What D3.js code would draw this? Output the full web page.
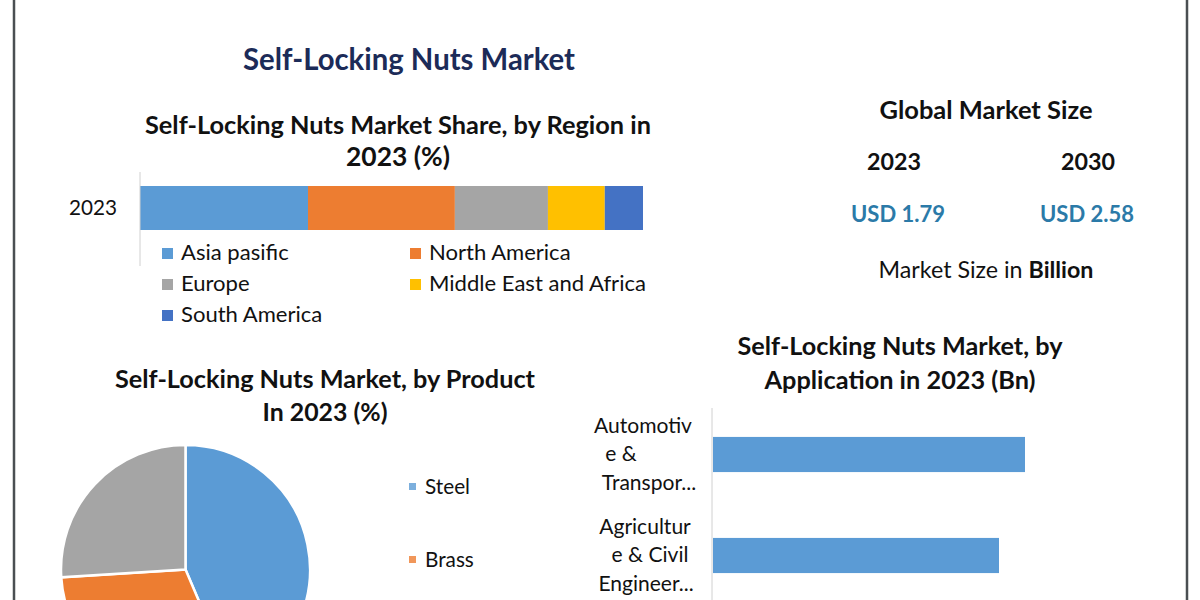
<!DOCTYPE html>
<html><head><meta charset="utf-8">
<script src="https://cdn.jsdelivr.net/npm/d3@7"></script>
<style>
body{margin:0;background:#fff}
svg{display:block}
text{font-family:Lato,'Open Sans',sans-serif;fill:#111}
</style>
</head><body>
<svg id="c" width="1200" height="600"></svg>
<script>
// ---------- data ----------
const regionYear = ["2023"];
const regions = ["Asia pasific","North America","Europe","Middle East and Africa","South America"];
const regionShare = [33.4, 29.2, 18.5, 11.3, 7.6];
const regionColors = ["#5b9bd5","#ed7d31","#a5a5a5","#ffc000","#4472c4"];

const products = ["Steel","Brass","Others"];
const productShare = [43.6, 30.4, 26.0];
const productColors = ["#5b9bd5","#ed7d31","#a5a5a5"];

const applications = ["Automotive & Transportation","Agriculture & Civil Engineering"];
const applicationLabelLines = [["Automotiv","e &","Transpor..."],["Agricultur","e & Civil","Engineer..."]];
const applicationValues = [0.60, 0.55];

const marketYears = ["2023","2030"];
const marketValues = [1.79, 2.58];

// ---------- helpers ----------
const svg = d3.select("#c");
function fit(sel, w){ // scale font-size so text width equals w
  sel.each(function(){
    const fs = parseFloat(this.getAttribute("font-size"));
    const cw = this.getComputedTextLength();
    this.setAttribute("font-size", (fs*w/cw).toFixed(2));
  });
}
function squeeze(sel, w){ // keep font-size, compress glyphs to width w
  sel.attr("textLength", w).attr("lengthAdjust","spacingAndGlyphs");
}
function txt(x,y,s,fs,opts={}){
  const t = svg.append("text").attr("x",x).attr("y",y).attr("font-size",fs)
    .attr("text-anchor",opts.anchor||"middle")
    .attr("font-weight",opts.bold?"bold":"normal")
    .text(s);
  if(opts.fill) t.style("fill",opts.fill);
  if(opts.sq) squeeze(t,opts.sq);
  else if(opts.w) fit(t,opts.w);
  return t;
}

// frame lines
svg.append("line").attr("x1",14).attr("x2",14).attr("y1",0).attr("y2",600).attr("stroke","#4a4f52").attr("stroke-width",2.5);
svg.append("line").attr("x1",1187).attr("x2",1187).attr("y1",0).attr("y2",600).attr("stroke","#4a4f52").attr("stroke-width",2.5);

// ---------- titles ----------
txt(409,70,"Self-Locking Nuts Market",31,{bold:true,fill:"#1c2b58",sq:332});
txt(398,134,"Self-Locking Nuts Market Share, by Region in",22,{bold:true,w:506});
txt(398,166,"2023 (%)",22,{bold:true,w:104});

// ---------- stacked bar ----------
const xS = d3.scaleLinear().domain([0,100]).range([140,643]);
const yS = d3.scaleBand().domain(regionYear).range([186,230]);
const row = {year:"2023"}; regions.forEach((r,i)=>row[r]=regionShare[i]);
const stack = d3.stack().keys(regions)([row]);
svg.append("g").selectAll("rect").data(stack).join("rect")
  .attr("x",d=>xS(d[0][0])).attr("width",d=>xS(d[0][1])-xS(d[0][0]))
  .attr("y",yS("2023")).attr("height",yS.bandwidth())
  .attr("fill",(d,i)=>regionColors[i]);
svg.append("line").attr("x1",140).attr("x2",140).attr("y1",172).attr("y2",266).attr("stroke","#d0d0d0").attr("stroke-width",1);
txt(93,215,"2023",22,{sq:48});

// region legend
const legPos = [[162,253],[410,253],[162,284],[410,284],[162,315]];
const lg = svg.append("g");
regions.forEach((r,i)=>{
  const [x,y]=legPos[i];
  lg.append("rect").attr("x",x).attr("y",y-5).attr("width",11).attr("height",11).attr("fill",regionColors[i]);
  lg.append("text").attr("x",x+19).attr("y",y+7).attr("font-size",20).text(r);
});
{
  const el = lg.selectAll("text").filter(function(){return this.textContent==="Middle East and Africa";}).node();
  const fs = 20*217/el.getComputedTextLength();
  lg.selectAll("text").attr("font-size",fs.toFixed(2));
}

// ---------- market size ----------
txt(986,119,"Global Market Size",23,{bold:true,w:213});
const mx = [894,1088];
marketYears.forEach((y,i)=>txt(mx[i],170,y,23,{bold:true,w:54}));
const ux = [898,1087];
marketValues.forEach((v,i)=>{
  txt(ux[i],222,"USD "+d3.format(".2f")(v),23,{bold:true,fill:"#2b7aa8",sq:94});
});
{
  const t = svg.append("text").attr("x",986).attr("y",278).attr("text-anchor","middle").attr("font-size",20);
  t.append("tspan").text("Market Size in ");
  t.append("tspan").attr("font-weight","bold").text("Billion");
  fit(t,215);
}

// ---------- product pie ----------
txt(325,388,"Self-Locking Nuts Market, by Product",22,{bold:true,w:420});
txt(325,421,"In 2023 (%)",22,{bold:true,w:125});
const pie = d3.pie().sort(null).value(d=>d)(productShare);
const arc = d3.arc().innerRadius(0).outerRadius(124.5);
svg.append("g").attr("transform","translate(185.5,569.5)")
  .selectAll("path").data(pie).join("path")
  .attr("d",arc).attr("fill",(d,i)=>productColors[i])
  .attr("stroke","#fff").attr("stroke-width",2.5);
const pl = svg.append("g");
const plY = d3.scalePoint().domain(products).range([487,633]);
products.forEach((p,i)=>{
  const y = plY(p);
  if (y + 10 > 600) return; // entry lies below the visible area
  pl.append("rect").attr("x",409).attr("y",y-4).attr("width",7).attr("height",7).attr("fill",productColors[i]).attr("opacity",0.8);
  pl.append("text").attr("x",425).attr("y",y+7).attr("font-size",19).text(p);
});
{
  const el = pl.select("text").node();
  const fs = 19*45/el.getComputedTextLength();
  pl.selectAll("text").attr("font-size",fs.toFixed(2));
}

// ---------- application bars ----------
txt(900,355,"Self-Locking Nuts Market, by",22,{bold:true,w:325});
txt(900,389,"Application in 2023 (Bn)",22,{bold:true,w:271});
const ax = d3.scaleLinear().domain([0,1]).range([713,1233]);
const ay = d3.scaleBand().domain(applications).range([404,606]).paddingInner(0.652).paddingOuter(0.326);
svg.append("g").selectAll("rect").data(applications).join("rect")
  .attr("x",ax(0)).attr("width",(d,i)=>ax(applicationValues[i])-ax(0))
  .attr("y",d=>ay(d)).attr("height",ay.bandwidth()).attr("fill","#5b9bd5");
svg.append("line").attr("x1",712).attr("x2",712).attr("y1",408).attr("y2",600).attr("stroke","#d0d0d0");
const al = svg.append("g");
const lineDx = [[-2,-24,4],[0,5,1]];
applications.forEach((a,i)=>{
  const cy = ay(a)+ay.bandwidth()/2;
  applicationLabelLines[i].forEach((ln,j)=>{
    al.append("text").attr("x",645+lineDx[i][j]).attr("y",cy+(j-1)*28.5+6.5)
      .attr("text-anchor","middle").attr("font-size",19).text(ln);
  });
});
{
  const el = al.select("text").node();
  const fs = 19*98/el.getComputedTextLength();
  al.selectAll("text").attr("font-size",fs.toFixed(2));
}
</script>
</body></html>
